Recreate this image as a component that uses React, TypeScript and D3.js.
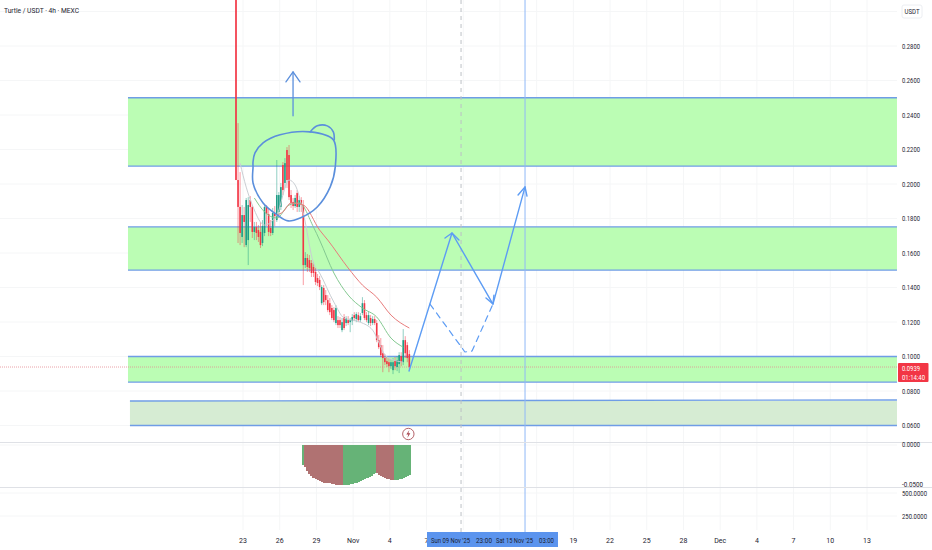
import * as d3 from 'd3'

const W = 932
const H = 550

// price scale labels
const priceTicks = [0.28, 0.26, 0.24, 0.22, 0.2, 0.18, 0.16, 0.14, 0.12, 0.1, 0.08, 0.06]
const gridOnlyPrices = [0.3]

// time axis, days counted from 23 Oct
const tickDays = [0, 3, 6, 9, 12, 15, 27, 30, 33, 36, 39, 42, 45, 48, 51]
const tickLabels = ['23', '26', '29', 'Nov', '4', '7', '19', '22', '25', '28', 'Dec', '4', '7', '10', '13']
const gridOnlyDays = [18, 21, 24]

// 4h candles
const firstCandleDay = -0.572
const opens = [.42,.2023,.1867,.1693,.1820,.1646,.1675,.1907,.1867,.1722,.1750,.1733,.1722,.1658,.1716,.1867,.1826,.1745,.1716,.1832,.1791,.1838,.1867,.2110,.2006,.2197,.2168,.1936,.1896,.1872,.1948,.1867,.1907,.1878,.1530,.1571,.1559,.1542,.1519,.1490,.1455,.1444,.1309,.1397,.1356,.1327,.1309,.1281,.1269,.1194,.1211,.1211,.1153,.1229,.1194,.1211,.1199,.1205,.1240,.1217,.1240,.1211,.1252,.1309,.1240,.1194,.1223,.1194,.1217,.1194,.1095,.1066,.1019,.0991,.0973,.0967,.0944,.0921,.0979,.0939,.0956,.1002,.0967,.1095,.1066,.1014]
const closes = [.2023,.1867,.1716,.1820,.1780,.1907,.1878,.1867,.1722,.1750,.1716,.1693,.1646,.1756,.1867,.1826,.1722,.1716,.1832,.1814,.1936,.1936,.1982,.1965,.2121,.2023,.1924,.1890,.1872,.1919,.1867,.1907,.1878,.1530,.1571,.1519,.1513,.1484,.1484,.1432,.1426,.1403,.1403,.1315,.1327,.1269,.1257,.1223,.1211,.1281,.1182,.1182,.1199,.1165,.1223,.1194,.1211,.1229,.1223,.1246,.1211,.1234,.1309,.1223,.1211,.1240,.1194,.1217,.1194,.1095,.1054,.1008,.0991,.0967,.0956,.0944,.0967,.0967,.0944,.0979,.1008,.0967,.1095,.1019,.0991,.0939]
const highs = [.45,.2353,.2069,.1878,.1867,.1919,.1924,.1930,.1878,.1780,.1780,.1762,.1780,.1791,.1878,.1878,.1861,.1791,.1861,.1872,.2139,.1953,.2006,.2127,.2150,.2214,.2226,.1965,.1919,.1936,.1965,.1930,.1924,.1907,.1605,.1594,.1588,.1559,.1548,.1513,.1478,.1467,.1414,.1414,.1385,.1356,.1339,.1298,.1286,.1298,.1234,.1229,.1223,.1246,.1234,.1234,.1223,.1246,.1257,.1257,.1257,.1252,.1344,.1327,.1257,.1263,.1240,.1234,.1234,.1211,.1124,.1107,.1066,.1014,.0997,.0991,.0985,.0991,.0997,.1002,.1025,.1025,.1159,.1118,.1083,.1037]
const lows = [.2023,.1658,.1646,.1658,.1634,.1634,.1530,.1780,.1687,.1675,.1675,.1664,.1629,.1640,.1698,.1756,.1698,.1698,.1704,.1756,.1780,.1803,.1849,.1936,.1977,.1977,.1907,.1861,.1849,.1861,.1838,.1838,.1838,.1414,.1513,.1490,.1490,.1461,.1461,.1414,.1408,.1385,.1298,.1298,.1298,.1257,.1240,.1211,.1199,.1182,.1165,.1165,.1141,.1153,.1176,.1182,.1141,.1182,.1205,.1199,.1199,.1199,.1240,.1211,.1199,.1182,.1176,.1182,.1182,.1083,.1043,.0997,.0909,.0950,.0939,.0909,.0927,.0898,.0921,.0915,.0904,.0944,.0950,.0991,.0967,.0927]

// moving averages, sampled at candle indexes
const maSlowAt = [20, 23, 27, 33, 41, 45, 55, 62, 69, 76, 85]
const maSlow = [.1820, .1838, .1890, .1878, .1733, .1675, .1513, .1414, .1344, .1240, .1165]
const maMidAt = [9, 14, 20, 26, 31, 38, 41, 48, 55, 62, 69, 76, 82]
const maMid = [.1919, .1838, .1803, .1878, .1890, .1750, .1675, .1484, .1356, .1281, .1229, .1107, .1054]
const maFastAt = [2, 5, 8, 14, 20, 26, 29, 33, 38, 41, 48, 53, 61, 67, 74, 82]
const maFast = [.2121, .1982, .1878, .1762, .1820, .2023, .1994, .1832, .1542, .1484, .1315, .1223, .1199, .1153, .0997, .0967]

// lower oscillator, starts at candle 33
const histStart = 33
const histValues = [-.025,-.0275,-.0325,-.0363,-.0388,-.0413,-.0425,-.0438,-.045,-.0463,-.0469,-.0475,-.0475,-.0481,-.0488,-.0488,-.0494,-.0494,-.05,-.05,-.05,-.05,-.0494,-.0488,-.0488,-.0481,-.0475,-.0463,-.045,-.0438,-.0425,-.0413,-.04,-.0388,-.0363,-.035,-.035,-.0375,-.0388,-.04,-.0413,-.0425,-.0431,-.0438,-.0438,-.0438,-.0438,-.0425,-.0419,-.0413,-.04,-.0388,-.0375]
const histRunLengths = [1, 19, 16, 9, 8]
const histRunColors = ['#66b377', '#b07272', '#66b377', '#b07272', '#66b377']

// support / resistance boxes: [top, bottom, fromDay]
const greenZones = [
  [0.25, 0.2104, -9.4],
  [0.1751, 0.1501, -9.4],
  [0.1, 0.0852, -9.4],
]
const paleZone = [0.0742, 0.06, -9.24]
const zoneEndDay = 53.45

// hand drawn annotations as [day, price]
const circle = [[.82,.2128],[.98,.2180],[1.64,.2238],[3.03,.2285],[5.49,.2302],[7.38,.2256],[7.54,.2099],[7.13,.1983],[6.07,.1867],[4.67,.1803],[3.69,.1786],[2.79,.1821],[1.64,.1890],[.82,.2006],[.82,.2099]]
const circleEar = [[5.49,.2302],[6.07,.2337],[6.89,.2337],[7.38,.2302],[7.46,.2256]]
const upArrow = [[4.09,.2395],[4.09,.2650]]
const upArrowHead = [[3.51,.2592],[4.09,.2650],[4.66,.2592]]
const mainPath = [[13.57,.0916],[17.08,.1716],[20.43,.1304],[23.05,.1983]]
const mainHeads = [
  [[16.51,.1687],[17.08,.1716],[17.65,.1675]],
  [[19.86,.1339],[20.43,.1304],[20.51,.1356]],
  [[22.48,.1936],[23.05,.1983],[23.21,.1930]],
]
const dashedPath = [[15.28,.1304],[18.14,.1026],[18.72,.1032],[20.43,.1304]]

const dashedCursorDay = 17.82
const blueCursorDay = 23.05
const lastPrice = 0.0939
const oscLabels = [
  { v: 0, label: '0.0000', w: 18 },
  { v: -0.05, label: '-0.0500', w: 21 },
]
const volumeLabels = ['500.0000', '250.0000']
const volumeValues = [500, 250]

const font = 'Roboto, "Liberation Sans", sans-serif'
const textColor = '#1c2230'
const gridColor = '#f5f6f7'

const App = () => {
  const x = d3.scaleLinear().domain([0, 51]).range([243, 867])
  const y = d3.scaleLinear().domain([0.06, 0.28]).range([425.5, 46])
  const yHist = d3.scaleLinear().domain([0, -0.05]).range([445, 485])
  const yVol = d3.scaleLinear().domain([250, 500]).range([516, 493])
  const candleX = (i: number) => x(firstCandleDay + i / 6)

  const pairLine = d3.line<number[]>().x((d) => x(d[0])).y((d) => y(d[1]))
  const smooth = d3.line<number[]>().x((d) => x(d[0])).y((d) => y(d[1])).curve(d3.curveCatmullRom.alpha(0.5))
  const closedSmooth = d3.line<number[]>().x((d) => x(d[0])).y((d) => y(d[1])).curve(d3.curveCatmullRomClosed.alpha(0.5))
  const maPath = (at: number[], vals: number[]) =>
    d3.line<number>()
      .x((_, i) => candleX(at[i]))
      .y((d) => y(d))
      .curve(d3.curveMonotoneX)(vals) as string

  const histColor: string[] = []
  histRunLengths.forEach((n, r) => {
    for (let k = 0; k < n; k++) histColor.push(histRunColors[r])
  })

  const candleW = x(1 / 6) - x(0)
  const zoneX1 = x(zoneEndDay)
  const markerX = candleX(85) - 1

  return (
    <svg width={W} height={H} style={{ position: 'fixed', left: 0, top: 0, background: '#fff', fontFamily: font }}>
      <defs>
        <clipPath id="pane">
          <rect x={0} y={0} width={897} height={442} />
        </clipPath>
      </defs>

      {/* grid */}
      <g stroke={gridColor} strokeWidth={1}>
        {[...priceTicks, ...gridOnlyPrices].map((p) => (
          <line key={p} x1={0} x2={897} y1={y(p)} y2={y(p)} />
        ))}
        {[...tickDays, ...gridOnlyDays].map((d) => (
          <line key={d} x1={x(d)} x2={x(d)} y1={0} y2={530} />
        ))}
        <line x1={0} x2={897} y1={yHist(0)} y2={yHist(0)} />
        {volumeValues.map((v) => (
          <line key={v} x1={0} x2={897} y1={yVol(v)} y2={yVol(v)} />
        ))}
      </g>

      {/* zones */}
      {greenZones.map((z) => (
        <g key={z[0]}>
          <rect x={x(z[2])} width={zoneX1 - x(z[2])} y={y(z[0])} height={y(z[1]) - y(z[0])} fill="#bbfdb4" />
          <line x1={x(z[2])} x2={zoneX1} y1={y(z[0])} y2={y(z[0])} stroke="#6f9de6" strokeWidth={1.3} />
          <line x1={x(z[2])} x2={zoneX1} y1={y(z[1])} y2={y(z[1])} stroke="#6f9de6" strokeWidth={1.3} />
        </g>
      ))}
      <rect x={x(paleZone[2])} width={zoneX1 - x(paleZone[2])} y={y(paleZone[0])} height={y(paleZone[1]) - y(paleZone[0])} fill="#d6ecd3" />
      <line x1={x(paleZone[2])} x2={zoneX1} y1={y(paleZone[0])} y2={y(paleZone[0]) - 1} stroke="#6f9de6" strokeWidth={1.3} />
      <line x1={x(paleZone[2])} x2={zoneX1} y1={y(paleZone[1])} y2={y(paleZone[1])} stroke="#6f9de6" strokeWidth={1.3} />

      {/* last price line */}
      <line x1={0} x2={897} y1={y(lastPrice)} y2={y(lastPrice)} stroke="#e58a93" strokeWidth={0.8} strokeDasharray="1 1" />

      {/* cursors */}
      <line x1={x(dashedCursorDay)} x2={x(dashedCursorDay)} y1={0} y2={532} stroke="#bcc0c6" strokeWidth={1} strokeDasharray="4 4" />
      <line x1={x(blueCursorDay)} x2={x(blueCursorDay)} y1={0} y2={532} stroke="#8fb8f7" strokeWidth={1} />

      {/* candles */}
      <g clipPath="url(#pane)">
        {opens.map((o, i) => {
          const c = closes[i]
          const color = c >= o ? '#1f9d86' : '#f23645'
          const cx = candleX(i)
          const top = y(Math.max(o, c))
          return (
            <g key={i}>
              <line x1={cx} x2={cx} y1={y(highs[i])} y2={y(lows[i])} stroke={color} strokeWidth={0.7} strokeOpacity={0.7} />
              <rect x={cx - 0.8} width={1.6} y={top} height={Math.max(1, y(Math.min(o, c)) - top)} fill={color} />
            </g>
          )
        })}
        <path d={maPath(maFastAt, maFast)} fill="none" stroke="#c9ced3" strokeWidth={1} />
        <path d={maPath(maMidAt, maMid)} fill="none" stroke="#84c991" strokeWidth={1} />
        <path d={maPath(maSlowAt, maSlow)} fill="none" stroke="#e87c7c" strokeWidth={1} />
      </g>

      {/* drawings */}
      <g fill="none" strokeLinejoin="round" strokeLinecap="round">
        <path d={closedSmooth(circle as any) as string} stroke="#5b8fdc" strokeWidth={1.6} />
        <path d={smooth(circleEar as any) as string} stroke="#5b8fdc" strokeWidth={1.6} />
        <path d={pairLine(upArrow as any) as string} stroke="#5b8fdc" strokeWidth={1.3} />
        <path d={pairLine(upArrowHead as any) as string} stroke="#5b8fdc" strokeWidth={1.3} />
        <path d={pairLine(mainPath as any) as string} stroke="#5d9cf4" strokeWidth={1.4} />
        {mainHeads.map((h, i) => (
          <path key={i} d={pairLine(h as any) as string} stroke="#5d9cf4" strokeWidth={1.4} />
        ))}
        <path d={pairLine(dashedPath as any) as string} stroke="#5d9cf4" strokeWidth={1.2} strokeDasharray="6 5" />
      </g>

      {/* oscillator */}
      <line x1={0} x2={W} y1={442.5} y2={442.5} stroke="#dfe1e6" strokeWidth={1} />
      <g shapeRendering="crispEdges">
        {histValues.map((v, i) => (
          <rect
            key={i}
            x={candleX(histStart + i) - candleW / 2}
            width={candleW + 1}
            y={yHist(0)}
            height={yHist(v) - yHist(0)}
            fill={histColor[i]}
          />
        ))}
      </g>
      <line x1={0} x2={W} y1={487.5} y2={487.5} stroke="#dfe1e6" strokeWidth={1} />

      {/* event marker */}
      <g transform={`translate(${markerX},434)`}>
        <circle r={5.7} fill="#fff" stroke="#b5636a" strokeWidth={1} />
        <path d="M1,-4 L-2,0.5 L0,0.5 L-1,4 L2,-0.8 L0,-0.8 Z" fill="#a8434d" />
      </g>

      {/* title */}
      <text x={4} y={12.5} fontSize={8} fill={textColor} textLength={75} lengthAdjust="spacingAndGlyphs">
        Turtle / USDT · 4h · MEXC
      </text>

      {/* price axis */}
      <rect x={902} y={5} width={20} height={13} fill="#fff" stroke="#eceef2" rx={2} />
      <text x={904.5} y={14} fontSize={7} fill={textColor} textLength={15} lengthAdjust="spacingAndGlyphs">
        USDT
      </text>
      <g fontSize={7} fill={textColor}>
        {priceTicks.map((p) => (
          <text key={p} x={902} y={y(p) + 2.5} textLength={18} lengthAdjust="spacingAndGlyphs">
            {p.toFixed(4)}
          </text>
        ))}
        {oscLabels.map((t) => (
          <text key={t.v} x={902} y={yHist(t.v) + 2} textLength={t.w} lengthAdjust="spacingAndGlyphs">
            {t.label}
          </text>
        ))}
        {volumeLabels.map((t, i) => (
          <text key={t} x={902} y={yVol(volumeValues[i]) + 2.5} textLength={25} lengthAdjust="spacingAndGlyphs">
            {t}
          </text>
        ))}
      </g>

      {/* last price tag */}
      <rect x={898} y={363} width={30.5} height={19} fill="#f23645" rx={1} />
      <text x={902} y={370.5} fontSize={7} fill="#fff" textLength={18} lengthAdjust="spacingAndGlyphs">
        {lastPrice.toFixed(4)}
      </text>
      <text x={902} y={379.5} fontSize={7} fill="#fff" textLength={23} lengthAdjust="spacingAndGlyphs">
        01:14:40
      </text>

      {/* time axis */}
      <g fontSize={7} fill={textColor} textAnchor="middle">
        {tickDays.map((d, i) => (
          <text key={d} x={x(d)} y={542.5}>
            {tickLabels[i]}
          </text>
        ))}
      </g>
      <rect x={427} y={532} width={131} height={15} fill="#5b94ee" />
      <g fontSize={7} fill={textColor}>
        <text x={431} y={543} textLength={39} lengthAdjust="spacingAndGlyphs">
          Sun 09 Nov '25
        </text>
        <text x={476} y={543} textLength={16} lengthAdjust="spacingAndGlyphs">
          23:00
        </text>
        <text x={496} y={543} textLength={37} lengthAdjust="spacingAndGlyphs">
          Sat 15 Nov '25
        </text>
        <text x={539} y={543} textLength={15} lengthAdjust="spacingAndGlyphs">
          03:00
        </text>
      </g>
    </svg>
  )
}

export default App
